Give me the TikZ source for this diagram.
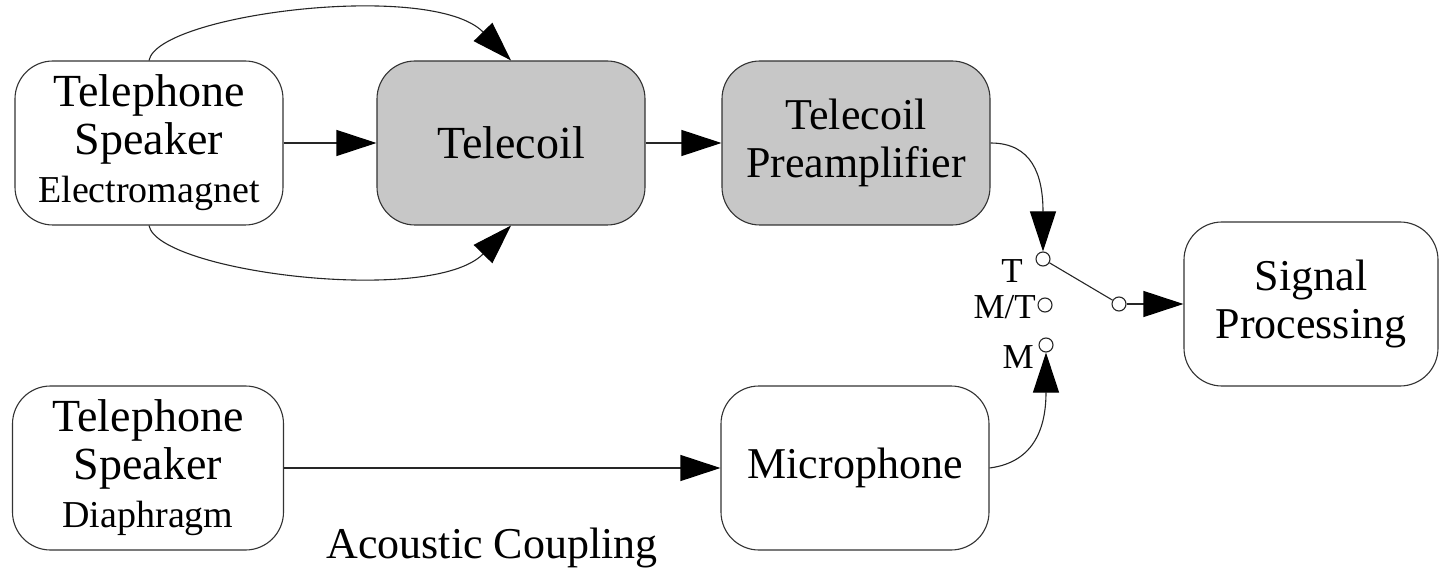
\documentclass[tikz,border=0pt]{standalone}
\usepackage{fontspec}
\setmainfont{Liberation Serif}
\usetikzlibrary{arrows.meta}

\tikzset{
  box/.style={draw=black!80, line width=1.1pt, rounded corners=38pt, fill=white,
    inner sep=0pt, align=center, font=\fontsize{44}{48}\selectfont,
    minimum width=268pt, minimum height=164pt},
  coilbox/.style={box, fill=black!22},
  conn/.style={line width=1.1pt, draw=black!85,
    -{Triangle[length=40pt,width=26pt,color=black]}},
  contact/.style={circle, draw=black!85, line width=1.1pt, fill=white,
    minimum size=14pt, inner sep=0pt},
  swlabel/.style={font=\fontsize{35}{40}\selectfont, inner sep=0pt, anchor=base east}
}
\newcommand\bigline{\fontsize{46}{48}\selectfont}
\newcommand\smallline{\fontsize{38}{48}\selectfont}

\begin{document}
\begin{tikzpicture}[x=1pt, y=-1pt]
\useasboundingbox (0,0) rectangle (1441,572);

% blocks
\node[box] (spk) at (149,143) {{\bigline Telephone}\\{\bigline Speaker}\\{\smallline Electromagnet}};
\node[coilbox, font=\bigline] (tc) at (511,143) {Telecoil};
\node[coilbox] (pre) at (856,143) {Telecoil\\Preamplifier};
\node[box, minimum width=254pt] (sig) at (1311,304) {Signal\\Processing};
\node[box, minimum width=271pt] (dia) at (148,468) {{\bigline Telephone}\\{\bigline Speaker}\\{\smallline Diaphragm}};
\node[box] (mic) at (855,468) {Microphone};

% switch contacts
\node[contact] (swT) at (1043,259) {};
\node[contact] (swMT) at (1045,305) {};
\node[contact] (swM) at (1046,345) {};
\node[contact] (swP) at (1119,304) {};

\node[swlabel] (lT) at (1023,283) {T};
\node[swlabel] (lMT) at (1036,318) {M/T};
\node[swlabel] (lM) at (1034,368) {M};

\node[font=\fontsize{44}{48}\selectfont, anchor=base, inner sep=0pt] (ac) at (492,558) {Acoustic Coupling};

% magnetic coupling paths
\draw[conn] (spk.north) .. controls (158,14) and (432,-20) .. (tc.north);
\draw[conn] (spk.east) -- (tc.west);
\draw[conn] (spk.south) .. controls (158,272) and (432,306) .. (tc.south);

% telecoil chain
\draw[conn] (tc.east) -- (pre.west);
\draw[conn] (pre.east) .. controls (1032,143) and (1043,175) .. (swT.north);

% acoustic path
\draw[conn] (dia.east) -- (mic.west);
\draw[conn] (mic.east) .. controls (1036,462) and (1046,425) .. (swM.south);

% switch lever and output
\draw[line width=1.1pt, draw=black!85] (swT) -- (swP);
\draw[conn] (swP) -- (swP -| sig.west);
\end{tikzpicture}
\end{document}
